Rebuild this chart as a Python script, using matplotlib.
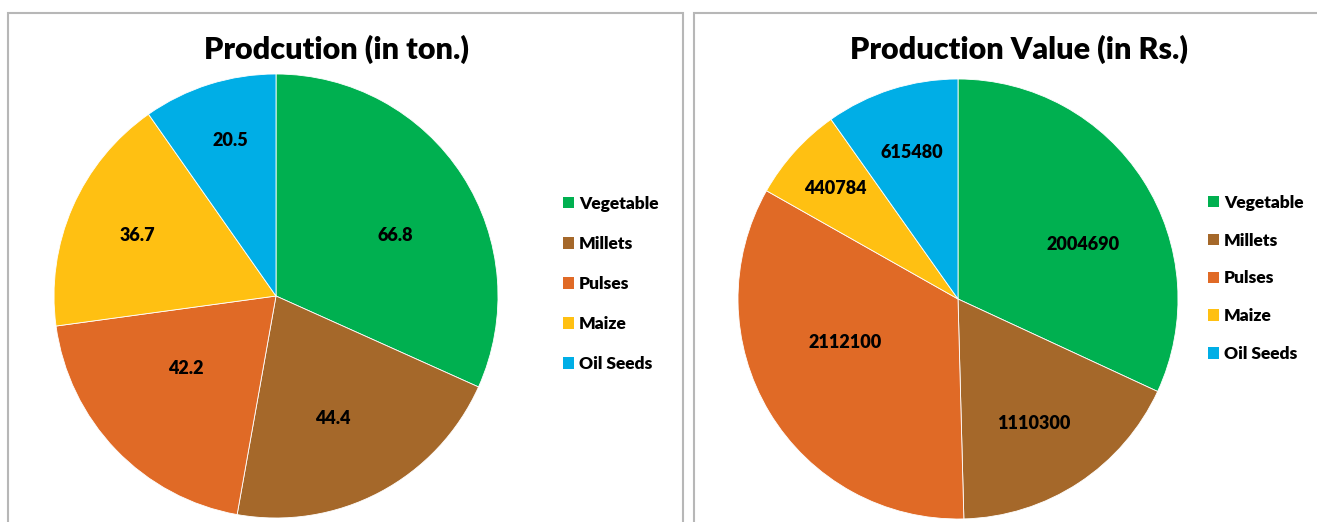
import matplotlib.pyplot as plt
import numpy as np
from matplotlib.patches import Rectangle, Patch

categories = ['Vegetable', 'Millets', 'Pulses', 'Maize', 'Oil Seeds']
production_ton = [66.8, 44.4, 42.2, 36.7, 20.5]
production_value = [2004690, 1110300, 2112100, 440784, 615480]
ton_labels = ['66.8', '44.4', '42.2', '36.7', '20.5']
value_labels = ['2004690', '1110300', '2112100', '440784', '615480']

colors = ['#00b050', '#a5682a', '#e06a26', '#ffc012', '#00aee6']

# where the data labels sit inside each slice (radius fraction, angle shift in deg)
ton_label_r = [0.60, 0.61, 0.52, 0.68, 0.73]
ton_label_shift = [-6, -3, -5, 0, -1]
value_label_r = [0.62, 0.66, 0.55, 0.75, 0.70]
value_label_shift = [-9, -2, -10, 0, 0]

W, H = 1317, 522
FONT = ['Lato', 'DejaVu Sans']
plt.rcParams['font.family'] = FONT


def px_box(x0, y0, x1, y1):
    # pixel box (top-left origin) -> figure fraction
    return [x0 / W, (H - y1) / H, (x1 - x0) / W, (y1 - y0) / H]


def draw_pie(ax, values, labels, label_r, label_shift):
    wedges, _ = ax.pie(values, colors=colors, startangle=90, counterclock=False,
                       wedgeprops=dict(linewidth=0.6, edgecolor='white'))
    for w, lab, r, s in zip(wedges, labels, label_r, label_shift):
        ang = np.deg2rad((w.theta1 + w.theta2) / 2 + s)
        ax.text(r * np.cos(ang), r * np.sin(ang), lab, ha='center', va='center',
                fontsize=13, fontweight='heavy', color='black')
    ax.set_xlim(-1, 1)
    ax.set_ylim(-1, 1)
    ax.set_aspect('equal')
    ax.axis('off')


def draw_legend(fig, x, y, spacing):
    handles = [Patch(facecolor=c, edgecolor='none') for c in colors]
    fig.legend(handles, categories, loc='upper left',
               bbox_to_anchor=(x / W, 1 - y / H), bbox_transform=fig.transFigure,
               frameon=False, borderpad=0, handlelength=0.65, handleheight=0.65,
               handletextpad=0.3, labelspacing=spacing,
               prop=dict(family=FONT, weight='heavy', size=12.5))


fig = plt.figure(figsize=(W / 100, H / 100), dpi=100)

# panel borders
fig.patches.append(Rectangle((8 / W, -0.05), (683 - 8) / W, (H + 26 - 13) / H,
                             transform=fig.transFigure, fill=False,
                             edgecolor='#b7b7b7', linewidth=1.5))
fig.patches.append(Rectangle((694 / W, -0.05), 1.0, (H + 26 - 13) / H,
                             transform=fig.transFigure, fill=False,
                             edgecolor='#b7b7b7', linewidth=1.5))

ax1 = fig.add_axes(px_box(54, 74, 498, 518))
draw_pie(ax1, production_ton, ton_labels, ton_label_r, ton_label_shift)

ax2 = fig.add_axes(px_box(738, 79, 1178, 519))
draw_pie(ax2, production_value, value_labels, value_label_r, value_label_shift)

fig.text(336 / W, 1 - 49 / H, 'Prodcution (in ton.)', ha='center', va='center',
         fontsize=22, fontweight='heavy')
fig.text(1019 / W, 1 - 49 / H, 'Production Value (in Rs.)', ha='center', va='center',
         fontsize=22, fontweight='heavy')

draw_legend(fig, 554, 187, 1.39)
draw_legend(fig, 1199, 186, 1.26)

fig.savefig('out.png', dpi=100)
